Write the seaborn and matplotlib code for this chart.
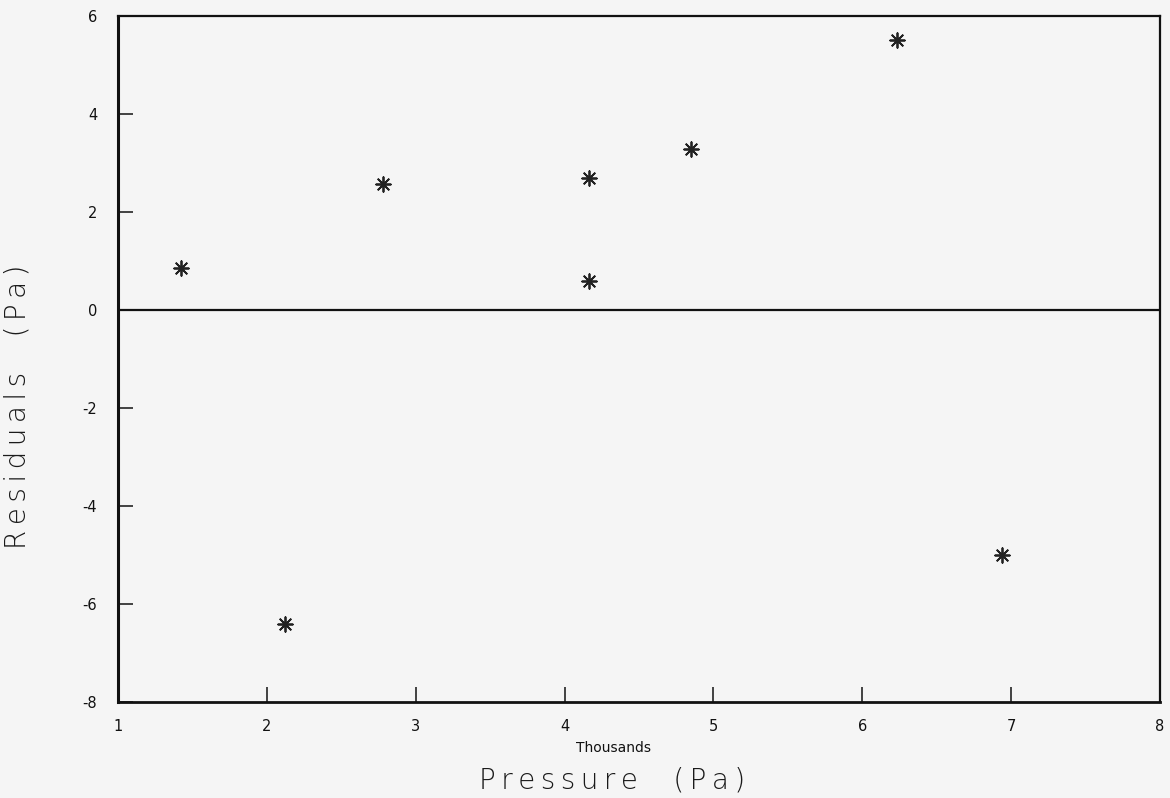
import matplotlib
matplotlib.use("Agg")
import matplotlib.pyplot as plt
import pandas as pd
import seaborn as sns

# pressure in thousands of Pa, residuals in Pa
pressure_k = [1.42, 2.12, 2.78, 4.165, 4.165, 4.85, 6.23, 6.94]
residuals = [0.85, -6.41, 2.57, 2.70, 0.59, 3.29, 5.50, -4.99]

x_ticks = [1, 2, 3, 4, 5, 6, 7, 8]
y_ticks = [6, 4, 2, 0, -2, -4, -6, -8]


def spaced(text, gap="\u2009"):
    # the plotter font is wide, so spread the letters a bit
    return gap.join(text)


df = pd.DataFrame({"pressure": pressure_k, "residual": residuals})

sns.set_style("white")
plt.rcParams["font.family"] = ["DejaVu Sans"]

bg = "#f5f5f5"
fig = plt.figure(figsize=(11.7, 7.98), dpi=100, facecolor=bg)
ax = fig.add_axes([0.1009, 0.1203, 0.8906, 0.8597])
ax.set_facecolor(bg)

ax.axhline(0, color="#111111", linewidth=1.6, zorder=1)

sns.scatterplot(data=df, x="pressure", y="residual", ax=ax,
                marker=(8, 2, 0), s=110, color="#222222",
                linewidth=1.3, edgecolor="#222222", legend=False, zorder=3)

ax.set_xlim(1, 8)
ax.set_ylim(-8, 6)
ax.set_xticks(x_ticks)
ax.set_yticks(y_ticks)
ax.set_xticklabels([str(t) for t in x_ticks])
ax.set_yticklabels([str(t) for t in y_ticks])
ax.tick_params(bottom=True, left=True, direction="in", length=11, width=1.1,
               color="#111111", labelsize=10.5, labelcolor="#111111", pad=12)
ax.tick_params(axis="y", pad=15)

for side in ["left", "bottom", "top", "right"]:
    ax.spines[side].set_visible(True)
    ax.spines[side].set_color("#111111")
ax.spines["left"].set_linewidth(2.2)
ax.spines["bottom"].set_linewidth(2.0)
ax.spines["top"].set_linewidth(1.6)
ax.spines["right"].set_linewidth(1.6)

ax.set_xlabel("")
ax.set_ylabel(spaced("Residuals") + "    " + spaced("(Pa)"), fontsize=20,
              fontweight="light", color="#1a1a1a")
ax.yaxis.set_label_coords(-0.083, 0.431)

ax.text(0.474, -0.114, spaced("Pressure") + "    " + spaced("(Pa)"),
        transform=ax.transAxes, ha="center", va="center", fontsize=20,
        fontweight="light", color="#1a1a1a")
ax.text(0.475, -0.067, "Thousands", transform=ax.transAxes,
        ha="center", va="center", fontsize=10, color="#111111")

fig.savefig("out.png", dpi=100, facecolor=bg)
plt.close(fig)
